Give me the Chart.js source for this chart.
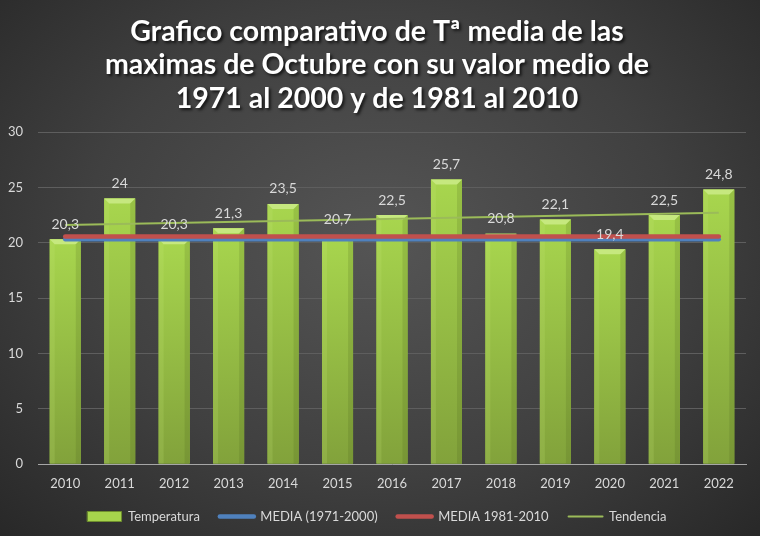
<!DOCTYPE html>
<html>
<head>
<meta charset="utf-8">
<script src="https://cdn.jsdelivr.net/npm/chart.js@4.4.1/dist/chart.umd.min.js"></script>
<style>
  html, body { margin: 0; padding: 0; }
  body {
    width: 760px; height: 536px; overflow: hidden;
    background: radial-gradient(ellipse at 50% 45%, #555555 0%, #404040 55%, #282828 100%);
  }
  #wrap { width: 760px; height: 536px; }
</style>
</head>
<body>
<div id="wrap"><canvas id="chart"></canvas></div>
<script>
const years = ['2010', '2011', '2012', '2013', '2014', '2015', '2016', '2017', '2018', '2019', '2020', '2021', '2022'];
const temperatura = [20.3, 24, 20.3, 21.3, 23.5, 20.7, 22.5, 25.7, 20.8, 22.1, 19.4, 22.5, 24.8];
const media7100 = [20.3, 20.3, 20.3, 20.3, 20.3, 20.3, 20.3, 20.3, 20.3, 20.3, 20.3, 20.3, 20.3];
const media8110 = [20.55, 20.55, 20.55, 20.55, 20.55, 20.55, 20.55, 20.55, 20.55, 20.55, 20.55, 20.55, 20.55];
// trend line read at its two ends, the rest joined by spanGaps
const tendencia = [21.6, null, null, null, null, null, null, null, null, null, null, null, 22.7];
const yTicks = [0, 5, 10, 15, 20, 25, 30];

const textColor = '#d9d9d9';
const fontFamily = 'Lato, "Liberation Sans", sans-serif';

// bevelled bars like the original, drawn over the library's own bar rectangles
const bevelBars = {
    id: 'bevelBars',
    afterDatasetDraw(chart, args) {
        if (args.index !== 0) return;
        const ctx = chart.ctx;
        const b = 5;
        args.meta.data.forEach(el => {
            const l = el.x - el.width / 2, r = el.x + el.width / 2;
            const t = el.y, bot = el.base;
            const g = ctx.createLinearGradient(0, t, 0, bot);
            g.addColorStop(0, '#a8d64e');
            g.addColorStop(1, '#82a23b');
            ctx.save();
            ctx.fillStyle = g;
            ctx.fillRect(l, t, r - l, bot - t);
            // top face
            ctx.fillStyle = '#c6e87f';
            ctx.beginPath();
            ctx.moveTo(l, t); ctx.lineTo(r, t); ctx.lineTo(r - b, t + b); ctx.lineTo(l + b, t + b);
            ctx.closePath(); ctx.fill();
            // left face
            ctx.fillStyle = 'rgba(200,235,120,0.18)';
            ctx.beginPath();
            ctx.moveTo(l, t); ctx.lineTo(l + b, t + b); ctx.lineTo(l + b, bot); ctx.lineTo(l, bot);
            ctx.closePath(); ctx.fill();
            // right face
            ctx.fillStyle = 'rgba(60,80,20,0.15)';
            ctx.beginPath();
            ctx.moveTo(r, t); ctx.lineTo(r - b, t + b); ctx.lineTo(r - b, bot); ctx.lineTo(r, bot);
            ctx.closePath(); ctx.fill();
            ctx.restore();
        });
    }
};

const barLabels = {
    id: 'barLabels',
    afterDatasetsDraw(chart) {
        const ctx = chart.ctx;
        const meta = chart.getDatasetMeta(0);
        ctx.save();
        ctx.font = '14px ' + fontFamily;
        ctx.fillStyle = textColor;
        ctx.textAlign = 'center';
        ctx.textBaseline = 'middle';
        meta.data.forEach((el, i) => {
            ctx.fillText(String(temperatura[i]).replace('.', ','), el.x, el.y - 15);
        });
        ctx.restore();
    }
};

// drop shadow under the title text
const titleShadow = {
    id: 'titleShadow',
    afterInit(chart) {
        const t = chart.titleBlock;
        const draw = t.draw.bind(t);
        t.draw = function () {
            const ctx = chart.ctx;
            ctx.save();
            ctx.shadowColor = 'rgba(0,0,0,0.7)';
            ctx.shadowOffsetX = 2;
            ctx.shadowOffsetY = 2;
            ctx.shadowBlur = 3;
            draw();
            ctx.restore();
        };
    }
};

new Chart(document.getElementById('chart'), {
    type: 'bar',
    data: {
        labels: years,
        datasets: [
            {
                label: 'Temperatura',
                data: temperatura,
                backgroundColor: '#97c144',
                borderWidth: 0,
                barPercentage: 0.57,
                categoryPercentage: 1,
                order: 4
            },
            {
                type: 'line',
                label: 'MEDIA (1971-2000)',
                data: media7100,
                borderColor: '#4f81bd',
                backgroundColor: '#4f81bd',
                borderWidth: 4.5,
                borderCapStyle: 'round',
                pointRadius: 0,
                order: 2
            },
            {
                type: 'line',
                label: 'MEDIA 1981-2010',
                data: media8110,
                borderColor: '#c0504d',
                backgroundColor: '#c0504d',
                borderWidth: 4.5,
                borderCapStyle: 'round',
                pointRadius: 0,
                order: 1
            },
            {
                type: 'line',
                label: 'Tendencia',
                data: tendencia,
                borderColor: '#9bbb59',
                backgroundColor: '#9bbb59',
                borderWidth: 2,
                pointRadius: 0,
                spanGaps: true,
                order: 3
            }
        ]
    },
    options: {
        responsive: true,
        maintainAspectRatio: false,
        animation: false,
        layout: { padding: { left: 8, right: 14, top: 0, bottom: 3 } },
        scales: {
            x: {
                grid: { display: false },
                border: { color: '#a6a6a6', width: 1 },
                afterFit: axis => { axis.height = 26; },
                ticks: { color: textColor, font: { family: fontFamily, size: 13 }, padding: 4 }
            },
            y: {
                min: 0,
                max: 30,
                afterBuildTicks: axis => { axis.ticks = yTicks.map(v => ({ value: v })); },
                afterFit: axis => { axis.width = 30; },
                grid: { color: '#5e5e5e', drawTicks: false },
                border: { display: false },
                ticks: { color: textColor, font: { family: fontFamily, size: 13 }, padding: 15 }
            }
        },
        plugins: {
            title: {
                display: true,
                text: ['Grafico comparativo de Tª media de las', 'maximas de Octubre con su valor medio de', '1971 al 2000 y de 1981 al 2010'],
                color: '#ffffff',
                font: { family: fontFamily, size: 28.5, weight: 'bold', lineHeight: 1.17 },
                padding: { top: 15, bottom: 17 }
            },
            legend: {
                position: 'bottom',
                labels: {
                    color: textColor,
                    font: { family: fontFamily, size: 13 },
                    usePointStyle: true,
                    pointStyleWidth: 34,
                    boxHeight: 10,
                    padding: 20,
                    generateLabels: chart => chart.data.datasets.map((ds, i) => ({
                        text: ds.label,
                        datasetIndex: i,
                        fillStyle: i === 0 ? '#a6d44c' : ds.borderColor,
                        strokeStyle: i === 0 ? '#6f8f2e' : ds.borderColor,
                        lineWidth: i === 0 ? 1 : ds.borderWidth,
                        lineCap: 'round',
                        pointStyle: i === 0 ? 'rect' : 'line',
                        fontColor: textColor
                    }))
                }
            },
            tooltip: { enabled: false }
        }
    },
    plugins: [bevelBars, barLabels, titleShadow]
});
</script>
</body>
</html>
